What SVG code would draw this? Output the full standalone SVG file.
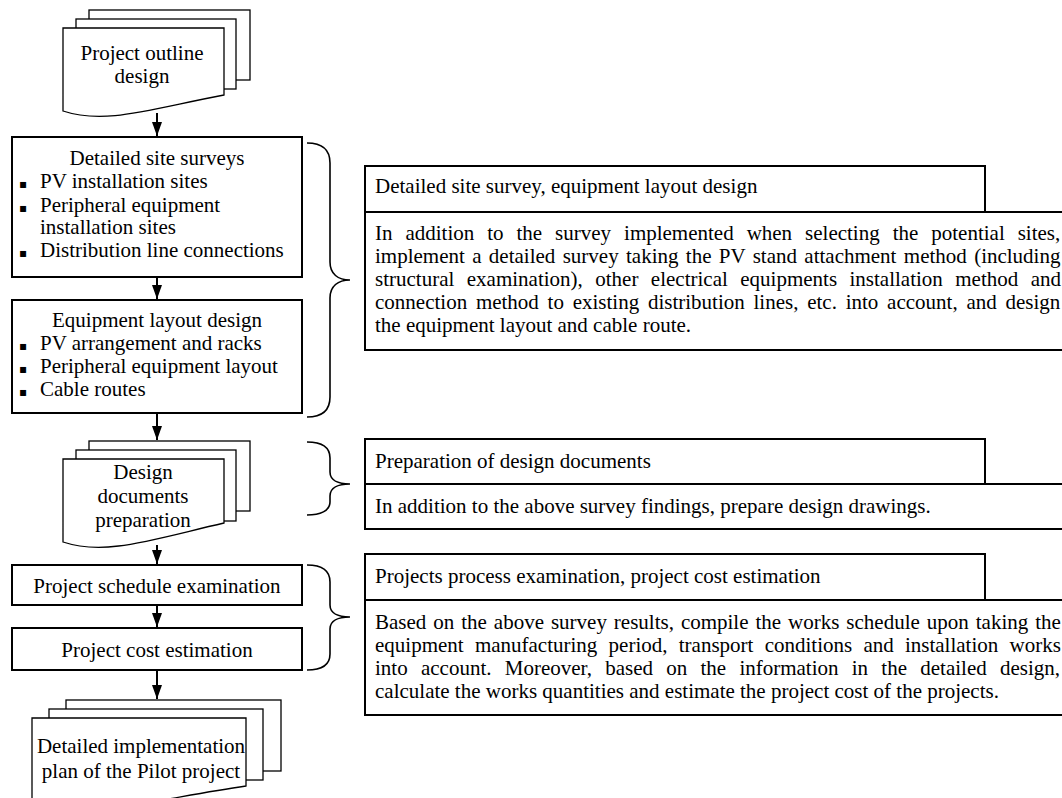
<svg xmlns="http://www.w3.org/2000/svg" width="1062" height="798" viewBox="0 0 1062 798">
<style>
text{font-family:"Liberation Serif","Times New Roman",serif;font-size:21px;fill:#000}
.c{text-anchor:middle}
.b{font-family:"DejaVu Sans",sans-serif;font-size:12px}
.box{fill:#fff;stroke:#000;stroke-width:2}
.doc{fill:#fff;stroke:#000;stroke-width:1.3}
.br{fill:none;stroke:#000;stroke-width:1.6}
.ar{fill:none;stroke:#000;stroke-width:2}
</style>
<defs>
<marker id="ah" viewBox="0 0 14 10" refX="14" refY="5" markerWidth="14" markerHeight="10" markerUnits="userSpaceOnUse" orient="auto">
<path d="M0,0 L14,5 L0,10 z" fill="#000"/>
</marker>
</defs>
<rect width="1062" height="798" fill="#fff"/>

<g id="connectors">
<line class="ar" x1="157" y1="113" x2="157" y2="136" marker-end="url(#ah)"/>
<line class="ar" x1="157" y1="277" x2="157" y2="299" marker-end="url(#ah)"/>
<line class="ar" x1="157" y1="413" x2="157" y2="440" marker-end="url(#ah)"/>
<line class="ar" x1="157" y1="545" x2="157" y2="564" marker-end="url(#ah)"/>
<line class="ar" x1="157" y1="605" x2="157" y2="627" marker-end="url(#ah)"/>
<line class="ar" x1="157" y1="670" x2="157" y2="699" marker-end="url(#ah)"/>
</g>

<g id="node-outline">
<rect class="doc" x="89" y="10" width="161" height="70"/>
<rect class="doc" x="76" y="19" width="160" height="70"/>
<path class="doc" d="M63,28 L224,28 L224,95 C150,109 105,125 63,111 Z"/>
<text class="c" x="142" y="60">Project outline</text>
<text class="c" x="142" y="83">design</text>
</g>

<g id="node-survey">
<rect class="box" x="12" y="137" width="290" height="140"/>
<text class="c" x="157" y="165">Detailed site surveys</text>
<text x="19" y="188"><tspan class="b">▪</tspan><tspan x="40">PV installation sites</tspan></text>
<text x="19" y="212"><tspan class="b">▪</tspan><tspan x="40">Peripheral equipment</tspan></text>
<text x="40" y="234">installation sites</text>
<text x="19" y="257"><tspan class="b">▪</tspan><tspan x="40">Distribution line connections</tspan></text>
</g>

<g id="node-layout">
<rect class="box" x="12" y="300" width="290" height="113"/>
<text class="c" x="157" y="327">Equipment layout design</text>
<text x="19" y="350"><tspan class="b">▪</tspan><tspan x="40">PV arrangement and racks</tspan></text>
<text x="19" y="373"><tspan class="b">▪</tspan><tspan x="40">Peripheral equipment layout</tspan></text>
<text x="19" y="396"><tspan class="b">▪</tspan><tspan x="40">Cable routes</tspan></text>
</g>

<g id="node-docs">
<rect class="doc" x="89" y="441" width="161" height="70"/>
<rect class="doc" x="76" y="450" width="160" height="71"/>
<path class="doc" d="M63,459 L224,459 L224,523 C150,540 105,556 63,542 Z"/>
<text class="c" x="143" y="479">Design</text>
<text class="c" x="143" y="503">documents</text>
<text class="c" x="143" y="527">preparation</text>
</g>

<g id="node-schedule">
<rect class="box" x="12" y="565" width="290" height="40"/>
<text class="c" x="157" y="593">Project schedule examination</text>
</g>

<g id="node-cost">
<rect class="box" x="12" y="628" width="290" height="42"/>
<text class="c" x="157" y="657">Project cost estimation</text>
</g>

<g id="node-plan">
<rect class="doc" x="66" y="700" width="215" height="71"/>
<rect class="doc" x="49" y="709" width="214" height="71"/>
<path class="doc" d="M32,718 L246,718 L246,786 C150,800 90,820 32,802 Z"/>
<text class="c" x="141" y="753">Detailed implementation</text>
<text class="c" x="141" y="778">plan of the Pilot project</text>
</g>

<g id="braces">
<path class="br" d="M307,143 C320,143 330,148 330,163 L330,262 C330,274 338,280 350,280 C338,280 330,286 330,298 L330,397 C330,412 320,417 307,417"/>
<path class="br" d="M307,442 C320,442 330,446 330,458 L330,472 C330,480 338,484 350,484 C338,484 330,488 330,496 L330,502 C330,511 320,515 307,515"/>
<path class="br" d="M307,565 C320,565 330,569 330,582 L330,605 C330,613 338,617 350,617 C338,617 330,621 330,629 L330,654 C330,666 320,670 307,670"/>
</g>

<g id="node-desc1">
<rect class="box" x="365" y="166" width="620" height="46"/>
<rect class="box" x="365" y="212" width="710" height="138"/>
<text x="375" y="193">Detailed site survey, equipment layout design</text>
<text x="375" y="240" word-spacing="7.7">In addition to the survey implemented when selecting the potential sites,</text>
<text x="375" y="263" word-spacing="2.1">implement a detailed survey taking the PV stand attachment method (including</text>
<text x="375" y="286" word-spacing="7.2">structural examination), other electrical equipments installation method and</text>
<text x="375" y="309" word-spacing="3.5">connection method to existing distribution lines, etc. into account, and design</text>
<text x="375" y="332">the equipment layout and cable route.</text>
</g>

<g id="node-desc2">
<rect class="box" x="365" y="439" width="620" height="45"/>
<rect class="box" x="365" y="484" width="710" height="45"/>
<text x="375" y="468">Preparation of design documents</text>
<text x="375" y="513">In addition to the above survey findings, prepare design drawings.</text>
</g>

<g id="node-desc3">
<rect class="box" x="365" y="554" width="620" height="46"/>
<rect class="box" x="365" y="600" width="710" height="115"/>
<text x="375" y="583">Projects process examination, project cost estimation</text>
<text x="375" y="629" word-spacing="1.7">Based on the above survey results, compile the works schedule upon taking the</text>
<text x="375" y="652" word-spacing="6.0">equipment manufacturing period, transport conditions and installation works</text>
<text x="375" y="675" word-spacing="8.0">into account. Moreover, based on the information in the detailed design,</text>
<text x="375" y="698">calculate the works quantities and estimate the project cost of the projects.</text>
</g>
</svg>
